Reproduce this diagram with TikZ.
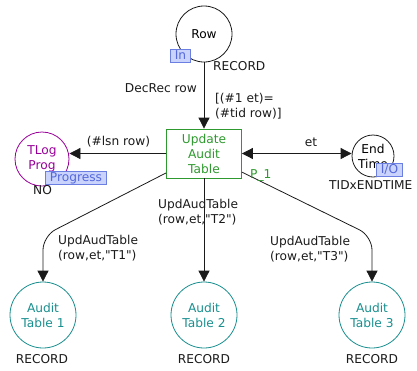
\documentclass[tikz,border=0pt]{standalone}
\usepackage{fontspec}
\setmainfont{DejaVu Sans}[Ligatures=TeXOff]
\usetikzlibrary{arrows.meta}
\definecolor{pnpurple}{HTML}{990099}
\definecolor{pnteal}{HTML}{1A8F8F}
\definecolor{pngreen}{HTML}{2E992E}
\definecolor{tagfill}{HTML}{C9D3FB}
\definecolor{tagdraw}{HTML}{6B7FE3}
\definecolor{tagtext}{HTML}{5468DC}
\definecolor{ink}{HTML}{1A1A1A}
\begin{document}
\begin{tikzpicture}[x=1pt,y=-1pt,
  font=\fontsize{12.2}{15}\selectfont,
  place/.style={circle,draw=ink,line width=0.8pt,inner sep=0pt,align=center,fill=white},
  trans/.style={rectangle,draw=pngreen,text=pngreen,line width=0.8pt,minimum width=75pt,minimum height=49pt,align=center,inner sep=0pt},
  tag/.style={draw=tagdraw,fill=tagfill,text=tagtext,inner xsep=4.5pt,inner ysep=0pt,minimum height=13pt,line width=0.8pt},
  lbl/.style={inner sep=0pt,align=left,text=ink},
  arc/.style={draw=ink,line width=0.8pt,-{Triangle[length=11pt,width=11pt]}},
]
\useasboundingbox (0,0) rectangle (417,370);
% places
\node[place,minimum size=56pt] (row) at (204,34) {Row};
\node[place,minimum size=54pt,draw=pnpurple,text=pnpurple] (tlog) at (42,159) {TLog\\Prog};
\node[place,minimum size=42pt] (end) at (373,156) {End\\Time};
\node[place,minimum size=66pt,draw=pnteal,text=pnteal] (a1) at (43,315) {Audit\\Table 1};
\node[place,minimum size=66pt,draw=pnteal,text=pnteal] (a2) at (204,315) {Audit\\Table 2};
\node[place,minimum size=66pt,draw=pnteal,text=pnteal] (a3) at (372,315) {Audit\\Table 3};
% transition
\node[trans] (t) at (204,153.5) {Update\\Audit\\Table};
% bend points
\coordinate (c1) at (43,236);
\coordinate (c3) at (372,236);
% arcs
\draw[arc] (row) -- (t);
\draw[arc] (t.west) -- (t.west -| tlog.east);
\draw[arc,{Triangle[length=11pt,width=11pt]}-{Triangle[length=11pt,width=11pt]}] (t.east) -- (t.east -| end.west);
\draw[arc,rounded corners=14pt] (t) -- (c1) -- (a1);
\draw[arc] (t) -- (a2);
\draw[arc,rounded corners=14pt] (t) -- (c3) -- (a3);
% tags
\node[tag] (tagin) at (180.5,55.5) {In};
\node[tag] (tagprog) at (76,178) {Progress};
\node[tag] (tagio) at (389.5,169.5) {I/O};
% labels
\node[lbl,anchor=west] (rowtype) at (213,66) {RECORD};
\node[lbl,anchor=east] (decrec) at (197,88) {DecRec row};
\node[lbl,anchor=west] (guard) at (215,106.5) {[(\#1 et)=\\(\#tid row)]};
\node[lbl] (lsn) at (118.5,142) {(\#lsn row)};
\node[lbl] (etl) at (311,142) {et};
\node[lbl,anchor=west,text=pngreen] (p1) at (250,175) {P\_1};
\node[lbl] (notype) at (42.5,190) {NO};
\node[lbl,anchor=west] (endtype) at (329,185) {TIDxENDTIME};
\node[lbl,anchor=west] (l1) at (58,248.5) {UpdAudTable\\(row,et,"T1")};
\node[lbl,anchor=west] (l2) at (158,212) {UpdAudTable\\(row,et,"T2")};
\node[lbl,anchor=west] (l3) at (270,249) {UpdAudTable\\(row,et,"T3")};
\node[lbl] (r1) at (42,359) {RECORD};
\node[lbl] (r2) at (204,359) {RECORD};
\node[lbl] (r3) at (372,359) {RECORD};
\end{tikzpicture}
\end{document}
